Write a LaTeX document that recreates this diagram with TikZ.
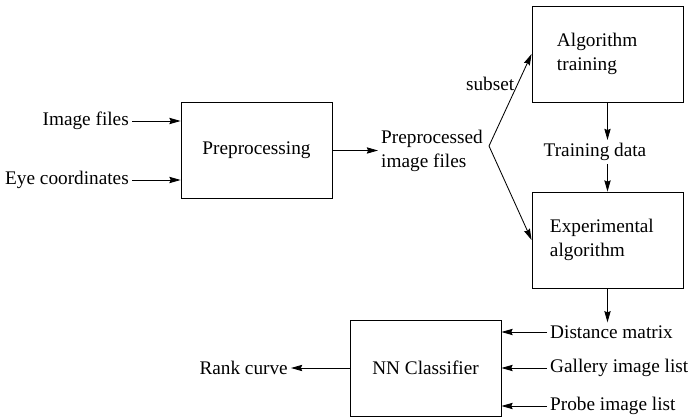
\documentclass[tikz,border=0pt]{standalone}
\usepackage{fontspec}
\setmainfont{Liberation Serif}
\usetikzlibrary{arrows.meta,positioning}

\begin{document}
\begin{tikzpicture}[
  x=0.025cm,y=-0.025cm,
  font=\fontsize{13.7}{16.5}\selectfont,
  line width=0.6pt,
  >={Stealth[length=8pt,width=4.5pt,inset=1pt]},
  blk/.style={draw,minimum width=3.775cm,minimum height=2.4cm},
  lbl/.style={inner sep=2pt},
]
  \useasboundingbox (0,0) rectangle (692,418);

  % inputs and preprocessing
  \node[blk] (pre) at (256.5,150.5) {Preprocessing};
  \node[lbl,anchor=east] (img) at (132,121) {Image files};
  \node[lbl,anchor=east] (eye) at (132,180) {Eye coordinates};
  \node[lbl,anchor=west,align=left] (ppf) at (378,151) {Preprocessed\\image files};
  \coordinate (split) at (489,146);

  % training and experiment
  \node[blk,align=left,inner xsep=0.625cm,text width=2.525cm] (alg) at (607.5,54) {Algorithm\\training};
  \node[lbl] (train) at (595,152) {Training data};
  \node[blk,align=left,inner xsep=0.45cm,text width=2.875cm] (exp) at (607.5,240) {Experimental\\algorithm};

  % classifier
  \node[blk] (nn) at (425.5,368) {NN Classifier};
  \node[lbl,anchor=west] (dist) at (547,332) {Distance matrix};
  \node[lbl,anchor=west] (gal) at (547,368) {Gallery image list};
  \node[lbl,anchor=west] (prb) at (547,406) {Probe image list};
  \node[lbl,anchor=east] (rank) at (291,368) {Rank curve};

  \draw[->] (img.east) -- (pre.west |- img.east);
  \draw[->] (eye.east) -- (pre.west |- eye.east);
  \draw[->] (pre.east) -- (ppf.west |- pre.east);
  \draw[->] (split) -- node[pos=0.68,left=-1pt] {subset} (alg.west);
  \draw[->] (split) -- (exp.west);
  \draw[->] (alg.south) -- (alg.south |- train.north);
  \draw[->] (alg.south |- train.south) -- (exp.north);
  \draw[->] (exp.south) -- (exp.south |- dist.north);
  \draw[->] (dist.west) -- (nn.east |- dist.west);
  \draw[->] (gal.west) -- (nn.east |- gal.west);
  \draw[->] (prb.west) -- (nn.east |- prb.west);
  \draw[->] (nn.west) -- (rank.east);
\end{tikzpicture}
\end{document}
